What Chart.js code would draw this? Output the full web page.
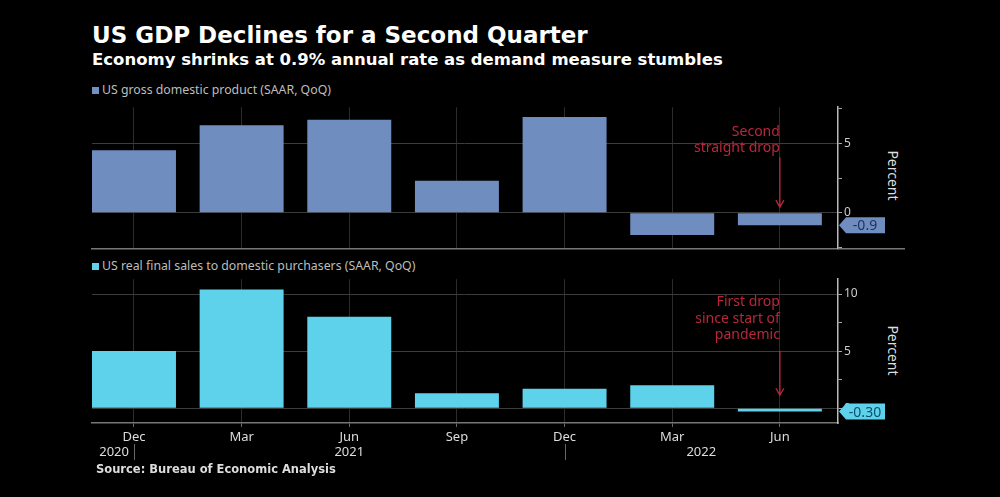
<!DOCTYPE html>
<html>
<head>
<meta charset="utf-8">
<script src="https://cdn.jsdelivr.net/npm/chart.js@4.4.0/dist/chart.umd.min.js"></script>
<style>
    body { margin: 0; background: #000; width: 1000px; height: 497px; overflow: hidden; position: relative; font-family: "DejaVu Sans", sans-serif; }
    .abs { position: absolute; }
    #title { left: 92px; top: 22px; color: #fff; font-weight: bold; font-size: 23px; white-space: nowrap; }
    #subtitle { left: 92px; top: 50px; color: #fff; font-weight: bold; font-size: 16.5px; white-space: nowrap; }
    .legend { left: 92px; color: #bdbdbd; font-size: 12.3px; font-family: "Noto Sans", sans-serif; white-space: nowrap; }
    .legend span { display: inline-block; width: 7px; height: 7px; margin-right: 3px; }
    .percent { color: #ddd; font-size: 14px; font-family: "Noto Sans", sans-serif; transform: rotate(90deg); transform-origin: center; width: 80px; text-align: center; }
    #source { left: 96px; top: 462px; color: #ddd; font-weight: bold; font-size: 11.5px; }
</style>
</head>
<body>
<div id="title" class="abs">US GDP Declines for a Second Quarter</div>
<div id="subtitle" class="abs">Economy shrinks at 0.9% annual rate as demand measure stumbles</div>
<div class="abs legend" style="top:81px"><span style="background:#7290c0"></span>US gross domestic product (SAAR, QoQ)</div>
<div class="abs legend" style="top:257px"><span style="background:#5fd3ec"></span>US real final sales to domestic purchasers (SAAR, QoQ)</div>
<div class="abs percent" style="left:853px; top:166px">Percent</div>
<div class="abs percent" style="left:853px; top:341px">Percent</div>
<div class="abs" style="left:0; top:98px; width:1000px; height:160px"><canvas id="gdpChart"></canvas></div>
<div class="abs" style="left:0; top:270px; width:1000px; height:200px"><canvas id="salesChart"></canvas></div>
<div id="source" class="abs">Source: Bureau of Economic Analysis</div>

<script>
var months = ['Dec', 'Mar', 'Jun', 'Sep', 'Dec', 'Mar', 'Jun'];
var gdpValues = [4.5, 6.3, 6.7, 2.3, 6.9, -1.6, -0.9];
var salesValues = [5.0, 10.4, 8.0, 1.3, 1.7, 2.0, -0.3];
var gdpTicks = [-2.5, 0, 2.5, 5, 7.5];
var salesTicks = [0, 2.5, 5, 7.5, 10];

var gdpColor = '#6f8dbe';
var salesColor = '#5ed2ea';
var redColor = '#b8283a';

function toPoints(values) {
    var pts = [];
    for (var i = 0; i < values.length; i++) {
        pts.push({ x: i, y: values[i] });
    }
    return pts;
}

function monthTicks(axis) {
    axis.ticks = months.map(function (m, i) { return { value: i }; });
}

function drawArrow(ctx, x, y1, y2) {
    ctx.strokeStyle = redColor;
    ctx.lineWidth = 1.3;
    ctx.beginPath();
    ctx.moveTo(x, y1);
    ctx.lineTo(x, y2);
    ctx.moveTo(x - 4, y2 - 7);
    ctx.lineTo(x, y2);
    ctx.lineTo(x + 4, y2 - 7);
    ctx.stroke();
}

function drawTag(chart, value, text, fill, textColor) {
    var ctx = chart.ctx;
    var x = chart.chartArea.right + 1;
    var y = chart.scales.y.getPixelForValue(value);
    ctx.save();
    ctx.fillStyle = fill;
    ctx.beginPath();
    ctx.moveTo(x, y);
    ctx.lineTo(x + 7, y - 8);
    ctx.lineTo(x + 46, y - 8);
    ctx.lineTo(x + 46, y + 8);
    ctx.lineTo(x + 7, y + 8);
    ctx.closePath();
    ctx.fill();
    ctx.fillStyle = textColor;
    ctx.font = '14px "Noto Sans", sans-serif';
    ctx.textAlign = 'center';
    ctx.textBaseline = 'middle';
    ctx.fillText(text, x + 26, y + 1);
    ctx.restore();
}

function notes(lines, baseValues, arrowFrom, arrowTo) {
    return {
        id: 'notes',
        afterDraw: function (chart) {
            var ctx = chart.ctx;
            var xs = chart.scales.x;
            var ys = chart.scales.y;
            var x = xs.getPixelForValue(6);
            ctx.save();
            ctx.fillStyle = redColor;
            ctx.font = '14px "Noto Sans", sans-serif';
            ctx.textAlign = 'right';
            ctx.textBaseline = 'alphabetic';
            for (var i = 0; i < lines.length; i++) {
                ctx.fillText(lines[i], x, ys.getPixelForValue(baseValues[i]));
            }
            drawArrow(ctx, x, ys.getPixelForValue(arrowFrom), ys.getPixelForValue(arrowTo));
            ctx.restore();
        }
    };
}

function baseOptions(yMin, yMax, yTicks, xHeight, topPad, showLabels) {
    return {
        responsive: true,
        maintainAspectRatio: false,
        animation: false,
        layout: { padding: { left: 92, top: topPad, right: 0, bottom: 0 } },
        plugins: { legend: { display: false }, tooltip: { enabled: false } },
        scales: {
            x: {
                type: 'linear',
                min: -0.39,
                max: 6.54,
                offset: false,
                afterBuildTicks: monthTicks,
                afterFit: function (axis) { axis.height = xHeight; },
                grid: { offset: false, color: '#2c2c2c', drawTicks: showLabels, tickLength: 4, tickColor: '#666' },
                border: { color: '#777', width: 1.5 },
                ticks: {
                    display: showLabels,
                    color: '#ddd',
                    padding: 2,
                    font: { family: 'Noto Sans', size: 13 },
                    maxRotation: 0,
                    callback: function (v) { return months[v]; }
                }
            },
            y: {
                position: 'right',
                min: yMin,
                max: yMax,
                afterBuildTicks: function (axis) {
                    axis.ticks = yTicks.map(function (v) { return { value: v }; });
                },
                afterFit: function (axis) { axis.width = 162; },
                grid: {
                    color: function (c) { return c.tick && c.tick.value % 5 === 0 ? '#3c3c3c' : 'rgba(0,0,0,0)'; },
                    tickColor: '#aaa',
                    tickLength: 4
                },
                border: { color: '#bbb', width: 1.5 },
                ticks: {
                    color: '#ccc',
                    padding: 2,
                    font: { family: 'Noto Sans', size: 12 },
                    callback: function (v) { return v % 5 === 0 ? String(v) : ''; }
                }
            }
        }
    };
}

var gdpCtx = document.getElementById('gdpChart').getContext('2d');
var gdpChart = new Chart(gdpCtx, {
    type: 'bar',
    data: {
        datasets: [{
            data: toPoints(gdpValues),
            backgroundColor: gdpColor,
            barPercentage: 0.78,
            categoryPercentage: 1
        }]
    },
    options: baseOptions(-2.6, 7.6, gdpTicks, 8, 5, false),
    plugins: [
        notes(['Second', 'straight drop'], [5.55, 4.4], 4.0, 0.4),
        {
            id: 'gdpExtras',
            afterDraw: function (chart) {
                var ctx = chart.ctx;
                var a = chart.chartArea;
                ctx.save();
                ctx.strokeStyle = '#777';
                ctx.lineWidth = 1.5;
                ctx.beginPath();
                ctx.moveTo(a.right, a.bottom);
                ctx.lineTo(905, a.bottom);
                ctx.stroke();
                ctx.restore();
                drawTag(chart, gdpValues[6], '-0.9', gdpColor, '#1a3560');
            }
        }
    ]
});

var salesCtx = document.getElementById('salesChart').getContext('2d');
var salesChart = new Chart(salesCtx, {
    type: 'bar',
    data: {
        datasets: [{
            data: toPoints(salesValues),
            backgroundColor: salesColor,
            barPercentage: 0.78,
            categoryPercentage: 1
        }]
    },
    options: baseOptions(-1.3, 11.3, salesTicks, 47, 8, true),
    plugins: [
        notes(['First drop', 'since start of', 'pandemic'], [8.96, 7.48, 6.09], 5.04, 1.13),
        {
            id: 'years',
            afterDraw: function (chart) {
                var ctx = chart.ctx;
                var xs = chart.scales.x;
                var y = chart.chartArea.bottom + 29;
                ctx.save();
                ctx.fillStyle = '#ddd';
                ctx.font = '13px "Noto Sans", sans-serif';
                ctx.textBaseline = 'middle';
                ctx.textAlign = 'right';
                ctx.fillText('2020', xs.getPixelForValue(0) - 5, y);
                ctx.textAlign = 'center';
                ctx.fillText('2021', xs.getPixelForValue(2), y);
                ctx.fillText('2022', xs.getPixelForValue(5.27), y);
                ctx.strokeStyle = '#666';
                ctx.lineWidth = 1;
                [0, 4].forEach(function (v) {
                    var x = Math.round(xs.getPixelForValue(v)) + 0.5;
                    ctx.beginPath();
                    ctx.moveTo(x, y - 8);
                    ctx.lineTo(x, y + 8);
                    ctx.stroke();
                });
                ctx.restore();
                drawTag(chart, salesValues[6], '-0.30', salesColor, '#0d4f6c');
            }
        }
    ]
});
</script>
</body>
</html>
